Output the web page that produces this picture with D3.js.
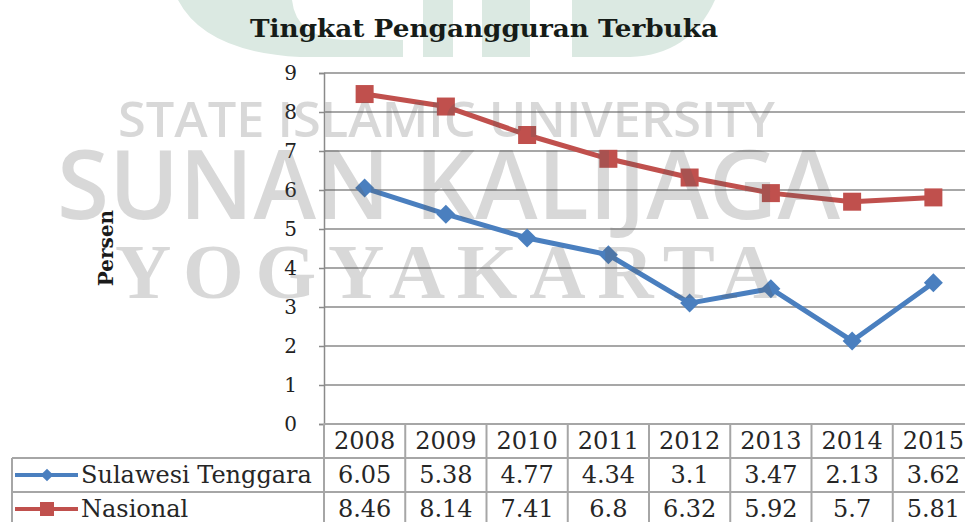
<!DOCTYPE html>
<html>
<head>
<meta charset="utf-8">
<script src="https://cdn.jsdelivr.net/npm/d3@7"></script>
<style>
  body { margin: 0; background: #fff; }
  svg { display: block; }
</style>
</head>
<body>
<div id="chart"></div>
<script>
// data
var years = ["2008", "2009", "2010", "2011", "2012", "2013", "2014", "2015"];
var sultra = [6.05, 5.38, 4.77, 4.34, 3.1, 3.47, 2.13, 3.62];
var nasional = [8.46, 8.14, 7.41, 6.8, 6.32, 5.92, 5.7, 5.81];
var yTicks = [0, 1, 2, 3, 4, 5, 6, 7, 8, 9];
var seriesNames = ["Sulawesi Tenggara", "Nasional"];

var svgWidth = 965;
var svgHeight = 522;
var plot = { left: 324, top: 73, bottom: 424, colWidth: 81.25 };
var rowH = 34;

var blue = "#4a7fbf";
var red = "#c0504d";
var serif = "'DejaVu Serif', serif";

var svg = d3.select("#chart")
  .append("svg")
  .attr("width", svgWidth)
  .attr("height", svgHeight);

// light green logo in the background (top)
var logo = svg.append("g").attr("fill", "#dbe9e2");
logo.append("path").attr("d", "M178,0 L292,0 Q296,38 345,40 L403,40 L403,57 L300,57 Q205,52 178,0 Z");
logo.append("rect").attr("x", 423).attr("y", 0).attr("width", 30).attr("height", 57);
logo.append("rect").attr("x", 482).attr("y", 0).attr("width", 48).attr("height", 57);
logo.append("path").attr("d", "M572,0 L715,0 Q690,55 630,57 L572,57 Z");

// scales
var x = d3.scaleBand()
  .domain(years)
  .range([plot.left, plot.left + plot.colWidth * years.length])
  .padding(0);
var y = d3.scaleLinear().domain([0, 9]).range([plot.bottom, plot.top]);
var cx = function(d, i) { return x(years[i]) + x.bandwidth() / 2; };

// gridlines
svg.append("g")
  .selectAll("line")
  .data(yTicks)
  .enter()
  .append("line")
  .attr("x1", plot.left)
  .attr("x2", svgWidth + 20)
  .attr("y1", function(d) { return y(d); })
  .attr("y2", function(d) { return y(d); })
  .attr("stroke", "#8a8a8a")
  .attr("stroke-width", 1.5);

// y axis
var leftAxis = d3.axisLeft(y).tickValues(yTicks).tickSize(5).tickPadding(22);
var yAxis = svg.append("g")
  .attr("transform", "translate(" + plot.left + ",0)")
  .call(leftAxis);
yAxis.select(".domain").attr("stroke", "#8a8a8a").attr("stroke-width", 1.5);
yAxis.selectAll(".tick line").attr("stroke", "#8a8a8a").attr("stroke-width", 1.5);
yAxis.selectAll("text")
  .style("font-family", serif)
  .style("font-size", "20px")
  .attr("fill", "#222");

// y axis title
svg.append("text")
  .attr("transform", "translate(113,248) rotate(-90)")
  .style("text-anchor", "middle")
  .style("font-family", serif)
  .style("font-size", "20px")
  .style("font-weight", "bold")
  .attr("fill", "#1a1a1a")
  .text("Persen");

// chart title
svg.append("text")
  .attr("x", 250)
  .attr("y", 37)
  .attr("textLength", 468)
  .attr("lengthAdjust", "spacingAndGlyphs")
  .style("font-family", serif)
  .style("font-size", "25px")
  .style("font-weight", "bold")
  .attr("fill", "#161c18")
  .text("Tingkat Pengangguran Terbuka");

// lines
var line = d3.line()
  .x(cx)
  .y(function(d) { return y(d); });

svg.append("path")
  .datum(nasional)
  .attr("d", line)
  .attr("fill", "none")
  .attr("stroke", red)
  .attr("stroke-width", 5)
  .attr("stroke-linejoin", "round");

svg.append("path")
  .datum(sultra)
  .attr("d", line)
  .attr("fill", "none")
  .attr("stroke", blue)
  .attr("stroke-width", 5)
  .attr("stroke-linejoin", "round");

// markers
var diamond = d3.symbol().type(d3.symbolSquare).size(180);
svg.append("g")
  .selectAll("path")
  .data(sultra)
  .enter()
  .append("path")
  .attr("d", diamond)
  .attr("transform", function(d, i) { return "translate(" + cx(d, i) + "," + y(d) + ") rotate(45)"; })
  .attr("fill", blue);

svg.append("g")
  .selectAll("rect")
  .data(nasional)
  .enter()
  .append("rect")
  .attr("x", function(d, i) { return cx(d, i) - 9; })
  .attr("y", function(d) { return y(d) - 9; })
  .attr("width", 18)
  .attr("height", 18)
  .attr("fill", red);

// data table
var table = svg.append("g");
var border = "#a6a6a6";
var tableRight = plot.left + plot.colWidth * years.length;

// horizontal borders
table.append("line")
  .attr("x1", plot.left).attr("x2", tableRight)
  .attr("y1", plot.bottom).attr("y2", plot.bottom)
  .attr("stroke", border).attr("stroke-width", 2);
[1, 2, 3].forEach(function(r) {
  table.append("line")
    .attr("x1", 12).attr("x2", tableRight)
    .attr("y1", plot.bottom + r * rowH).attr("y2", plot.bottom + r * rowH)
    .attr("stroke", border).attr("stroke-width", 2);
});
// vertical borders
table.append("line")
  .attr("x1", 12).attr("x2", 12)
  .attr("y1", plot.bottom + rowH).attr("y2", svgHeight)
  .attr("stroke", border).attr("stroke-width", 2);
table.selectAll(".col")
  .data(years.concat(["end"]))
  .enter()
  .append("line")
  .attr("class", "col")
  .attr("x1", function(d, i) { return plot.left + i * x.bandwidth(); })
  .attr("x2", function(d, i) { return plot.left + i * x.bandwidth(); })
  .attr("y1", plot.bottom)
  .attr("y2", svgHeight)
  .attr("stroke", border)
  .attr("stroke-width", 2);

// table text
var rows = [years, sultra, nasional];
rows.forEach(function(row, r) {
  table.append("g")
    .selectAll("text")
    .data(row)
    .enter()
    .append("text")
    .attr("x", cx)
    .attr("y", plot.bottom + r * rowH + rowH / 2 + 8)
    .style("text-anchor", "middle")
    .style("font-family", serif)
    .style("font-size", "24px")
    .attr("fill", "#262626")
    .text(function(d) { return d; });
});

// legend keys inside the table
seriesNames.forEach(function(name, i) {
  var yc = plot.bottom + (i + 1) * rowH + rowH / 2;
  var col = i === 0 ? blue : red;
  table.append("line")
    .attr("x1", 15).attr("x2", 78)
    .attr("y1", yc).attr("y2", yc)
    .attr("stroke", col).attr("stroke-width", 4);
  if (i === 0) {
    table.append("path")
      .attr("d", d3.symbol().type(d3.symbolSquare).size(80))
      .attr("transform", "translate(47," + yc + ") rotate(45)")
      .attr("fill", col);
  } else {
    table.append("rect")
      .attr("x", 40).attr("y", yc - 7)
      .attr("width", 14).attr("height", 14)
      .attr("fill", col);
  }
  table.append("text")
    .attr("x", 81)
    .attr("y", yc + 8)
    .style("font-family", serif)
    .style("font-size", "24px")
    .attr("fill", "#262626")
    .text(name);
});

// grey watermark over everything
var wm = svg.append("g")
  .attr("fill", "#5a5a5a")
  .attr("fill-opacity", 0.24)
  .style("pointer-events", "none");
wm.append("text")
  .attr("x", 118).attr("y", 137)
  .attr("textLength", 657)
  .attr("lengthAdjust", "spacingAndGlyphs")
  .style("font-family", "'Open Sans', sans-serif")
  .style("font-size", "49px")
  .style("font-weight", 600)
  .text("STATE ISLAMIC UNIVERSITY");
wm.append("text")
  .attr("x", 57).attr("y", 219)
  .attr("textLength", 783)
  .attr("lengthAdjust", "spacingAndGlyphs")
  .style("font-family", "'Open Sans', sans-serif")
  .style("font-size", "96px")
  .style("font-weight", 600)
  .text("SUNAN KALIJAGA");
wm.append("text")
  .attr("x", 115).attr("y", 298)
  .attr("textLength", 662)
  .attr("lengthAdjust", "spacing")
  .style("font-family", "'Liberation Serif', serif")
  .style("font-size", "78px")
  .style("font-weight", "bold")
  .text("YOGYAKARTA");
</script>
</body>
</html>
